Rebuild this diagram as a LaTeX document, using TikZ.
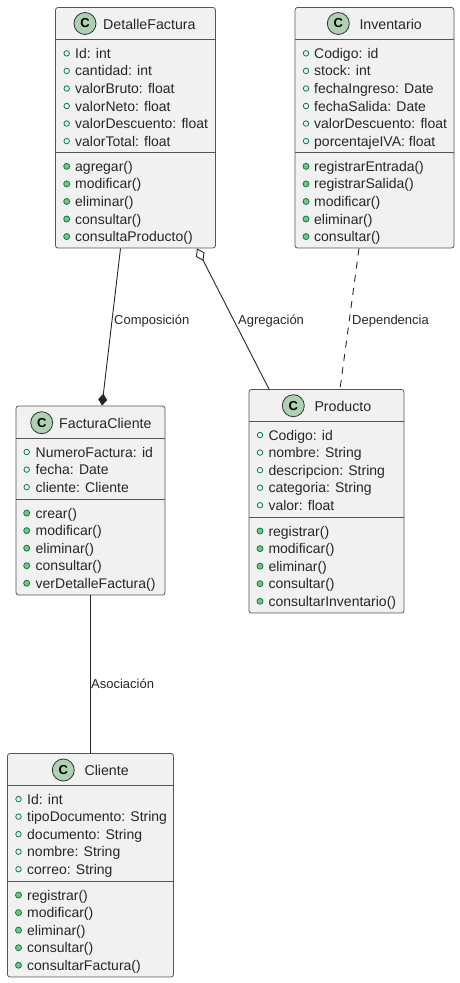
\documentclass[tikz,border=0pt]{standalone}
\usepackage{fontspec}
\setmainfont{Liberation Sans}
\usetikzlibrary{arrows.meta}
\definecolor{boxfill}{HTML}{F1F1F1}
\definecolor{boxline}{HTML}{555555}
\definecolor{iconfill}{HTML}{ADD1B2}
\definecolor{dotline}{HTML}{038048}
\definecolor{dotfill}{HTML}{84BE84}
\begin{document}
\begin{tikzpicture}[x=1pt,y=-1pt]
   \tikzstyle{cbox}=[draw=boxline,fill=boxfill,rectangle,rounded corners=2.5pt,inner sep=0pt,line width=.8pt]
   \tikzstyle{sep}=[boxline,line width=.8pt]
   \tikzstyle{icon}=[draw=black!80,fill=iconfill,circle,minimum size=22pt,inner sep=0pt,line width=.8pt,font=\fontsize{13}{13}\selectfont\bfseries]
   \tikzstyle{head}=[anchor=base west,inner sep=0pt,font=\fontsize{14.2}{16}\selectfont,text=black!85]
   \tikzstyle{item}=[anchor=base west,inner sep=0pt,font=\fontsize{14}{16}\selectfont,text=black!85]
   \tikzstyle{attr}=[draw=dotline,fill=boxfill,circle,minimum size=5.5pt,inner sep=0pt,line width=.8pt]
   \tikzstyle{meth}=[draw=dotline,fill=dotfill,circle,minimum size=6pt,inner sep=0pt,line width=.8pt]
   \tikzstyle{ar}=[black!85,line width=.9pt]
   \tikzstyle{lab}=[anchor=base west,inner sep=0pt,font=\fontsize{13}{14}\selectfont,text=black!85]

   \path [use as bounding box] (0,0) rectangle (460,983);

   % DetalleFactura
   \node (df) [cbox,minimum width=160pt,minimum height=240.5pt] at (135.5,127.75) {};
   \node (dfc) [icon] at (85,23.5) {C};
   \node (dft) [head] at (103,29) {DetalleFactura};
   \draw [sep] (55.5,39.5) -- (215.5,39.5);
   \draw [sep] (55.5,152.5) -- (215.5,152.5);
   \foreach \m [count=\i] in {Id: int,cantidad: int,valorBruto: float,valorNeto: float,valorDescuento: float,valorTotal: float} {
      \node (dfad\i) [attr] at (66.7,35.8+17.55*\i) {};
      \node (dfa\i) [item] at (75,40.8+17.55*\i) {\m};
   }
   \foreach \m [count=\i] in {agregar(),modificar(),eliminar(),consultar(),consultaProducto()} {
      \node (dfmd\i) [meth] at (66.7,148.8+17.55*\i) {};
      \node (dfm\i) [item] at (75,153.8+17.55*\i) {\m};
   }

   % Inventario
   \node (inv) [cbox,minimum width=159pt,minimum height=240.5pt] at (374.5,127.75) {};
   \node (invc) [icon] at (338.3,23.5) {C};
   \node (invt) [head] at (359.3,29) {Inventario};
   \draw [sep] (295,39.5) -- (454,39.5);
   \draw [sep] (295,152.5) -- (454,152.5);
   \foreach \m [count=\i] in {Codigo: id,stock: int,fechaIngreso: Date,fechaSalida: Date,valorDescuento: float,porcentajeIVA: float} {
      \node (invad\i) [attr] at (306,35.8+17.55*\i) {};
      \node (inva\i) [item] at (314,40.8+17.55*\i) {\m};
   }
   \foreach \m [count=\i] in {registrarEntrada(),registrarSalida(),modificar(),eliminar(),consultar()} {
      \node (invmd\i) [meth] at (306,148.8+17.55*\i) {};
      \node (invm\i) [item] at (314,153.8+17.55*\i) {\m};
   }

   % FacturaCliente
   \node (fc) [cbox,minimum width=149pt,minimum height=189pt] at (90.5,500.5) {};
   \node (fcc) [icon] at (41.7,422.7) {C};
   \node (fct) [head] at (59,428) {FacturaCliente};
   \draw [sep] (16,438) -- (165,438);
   \draw [sep] (16,499) -- (165,499);
   \foreach \m [count=\i] in {NumeroFactura: id,fecha: Date,cliente: Cliente} {
      \node (fcad\i) [attr] at (26.7,434.5+17.55*\i) {};
      \node (fca\i) [item] at (35.5,439.5+17.55*\i) {\m};
   }
   \foreach \m [count=\i] in {crear(),modificar(),eliminar(),consultar(),verDetalleFactura()} {
      \node (fcmd\i) [meth] at (26.7,495.5+17.55*\i) {};
      \node (fcm\i) [item] at (35.5,500.5+17.55*\i) {\m};
   }

   % Producto
   \node (pr) [cbox,minimum width=155pt,minimum height=223.5pt] at (326.5,501.25) {};
   \node (prc) [icon] at (293.3,405.7) {C};
   \node (prt) [head] at (314.3,411) {Producto};
   \draw [sep] (249,421) -- (404,421);
   \draw [sep] (249,517) -- (404,517);
   \foreach \m [count=\i] in {Codigo: id,nombre: String,descripcion: String,categoria: String,valor: float} {
      \node (prad\i) [attr] at (260,417.5+17.55*\i) {};
      \node (pra\i) [item] at (268.3,422.5+17.55*\i) {\m};
   }
   \foreach \m [count=\i] in {registrar(),modificar(),eliminar(),consultar(),consultarInventario()} {
      \node (prmd\i) [meth] at (260,513.5+17.55*\i) {};
      \node (prm\i) [item] at (268.3,518.5+17.55*\i) {\m};
   }

   % Cliente
   \node (cl) [cbox,minimum width=166pt,minimum height=223.5pt] at (90.5,865.25) {};
   \node (clc) [icon] at (63.3,770) {C};
   \node (clt) [head] at (84.3,775.5) {Cliente};
   \draw [sep] (7.5,785.5) -- (173.5,785.5);
   \draw [sep] (7.5,881) -- (173.5,881);
   \foreach \m [count=\i] in {Id: int,tipoDocumento: String,documento: String,nombre: String,correo: String} {
      \node (clad\i) [attr] at (18.5,781.5+17.55*\i) {};
      \node (cla\i) [item] at (27,786.5+17.55*\i) {\m};
   }
   \foreach \m [count=\i] in {registrar(),modificar(),eliminar(),consultar(),consultarFactura()} {
      \node (clmd\i) [meth] at (18.5,877.5+17.55*\i) {};
      \node (clm\i) [item] at (27,882.5+17.55*\i) {\m};
   }

   % relations
   \draw [ar,-{Diamond[length=12pt,width=9pt,fill=black!85]}] ([xshift=-15pt]df.south) -- ([xshift=11.5pt]fc.north) ;
   \draw [ar,{Diamond[open,length=14pt,width=9.5pt]}-] ([xshift=61.5pt]df.south) -- ([xshift=-57.5pt]pr.north) ;
   \draw [ar,dash pattern=on 7pt off 6.3pt] ([xshift=-15.5pt]inv.south) -- ([xshift=13.5pt]pr.north) ;
   \draw [ar] (fc.south) -- (cl.north) ;
   \node (lcomp) [lab] at (114,324) {Composición};
   \node (lagr) [lab] at (238,324) {Agregación};
   \node (ldep) [lab] at (352,324) {Dependencia};
   \node (laso) [lab] at (91,688) {Asociación};
\end{tikzpicture}
\end{document}
